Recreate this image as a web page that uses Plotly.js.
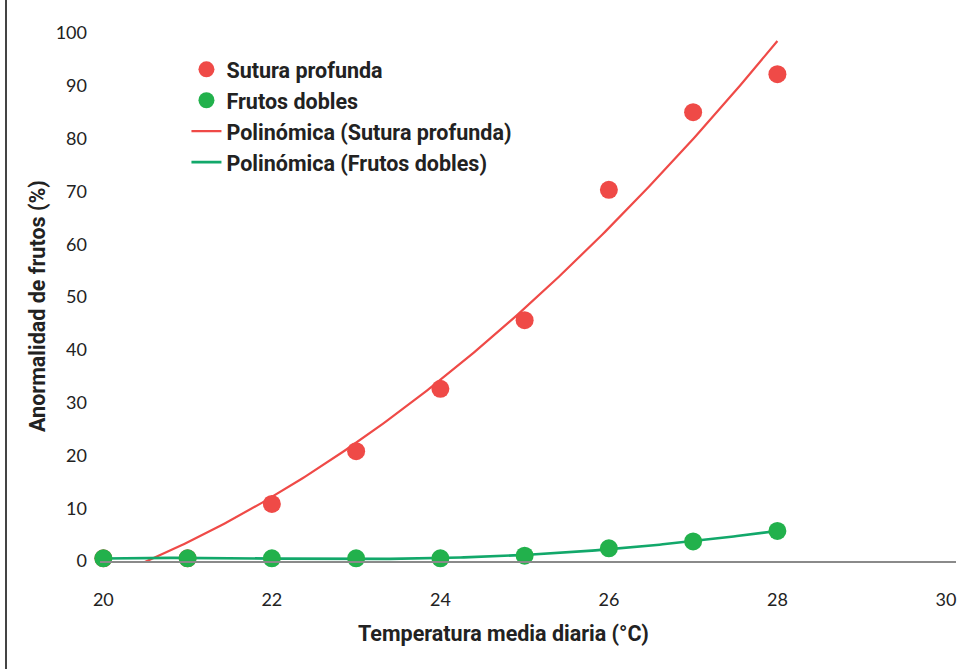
<!DOCTYPE html>
<html>
<head>
<meta charset="utf-8">
<script src="https://cdn.plot.ly/plotly-3.0.1.min.js"></script>
<style>
html,body{margin:0;padding:0;background:#fff;}
#wrap{position:relative;width:967px;height:669px;}
#frame{position:absolute;left:5px;top:0;width:2px;height:669px;background:#444;}
#chart{width:967px;height:669px;}
</style>
</head>
<body>
<div id="wrap"><div id="chart"></div><div id="frame"></div></div>
<script>
// Data
const temperatura = [20, 21, 22, 23, 24, 25, 26, 27, 28];
const suturaProfunda = [0.5, 0.5, 10.8, 20.8, 32.6, 45.6, 70.3, 85.0, 92.2];
const frutosDobles = [0.5, 0.5, 0.5, 0.5, 0.5, 1.0, 2.4, 3.7, 5.7];
const xTicks = [20, 22, 24, 26, 28, 30];
const yTicks = [0, 10, 20, 30, 40, 50, 60, 70, 80, 90, 100];
const xTitle = 'Temperatura media diaria (°C)';
const yTitle = 'Anormalidad de frutos (%)';

// least-squares polynomial trendline (as the spreadsheet does)
function polyfit(xs, ys, deg) {
  const xm = xs.reduce((a, b) => a + b, 0) / xs.length;
  const n = deg + 1;
  const A = Array.from({length: n}, () => new Array(n + 1).fill(0));
  xs.forEach((x, k) => {
    const t = x - xm;
    for (let i = 0; i < n; i++) {
      for (let j = 0; j < n; j++) A[i][j] += Math.pow(t, i + j);
      A[i][n] += ys[k] * Math.pow(t, i);
    }
  });
  for (let i = 0; i < n; i++) {
    let p = i;
    for (let r = i + 1; r < n; r++) if (Math.abs(A[r][i]) > Math.abs(A[p][i])) p = r;
    [A[i], A[p]] = [A[p], A[i]];
    for (let r = 0; r < n; r++) {
      if (r === i) continue;
      const f = A[r][i] / A[i][i];
      for (let c = i; c <= n; c++) A[r][c] -= f * A[i][c];
    }
  }
  const coef = A.map((row, i) => row[n] / row[i]);
  return x => coef.reduce((s, c, i) => s + c * Math.pow(x - xm, i), 0);
}
function trend(xs, ys, deg) {
  const f = polyfit(xs, ys, deg);
  const tx = [], ty = [];
  const x0 = xs[0], x1 = xs[xs.length - 1];
  for (let i = 0; i <= 200; i++) {
    const x = x0 + (x1 - x0) * i / 200;
    tx.push(x); ty.push(f(x));
  }
  return {tx, ty};
}
const tRed = trend(temperatura, suturaProfunda, 2);
const tGreen = trend(temperatura, frutosDobles, 4);

const RED = '#EF4A47', GREEN = '#22B14C', GREEN_LINE = '#12A86A';
const FONT = 'Lato, "Open Sans", sans-serif';
const BFONT = 'Roboto, "Open Sans", sans-serif';

const traces = [
  {x: tRed.tx, y: tRed.ty, mode: 'lines', name: 'Polinómica (Sutura profunda)', line: {color: RED, width: 2.2}, legendrank: 3, legendgroup: 'c', hoverinfo: 'skip'},
  {x: temperatura, y: suturaProfunda, mode: 'markers', name: 'Sutura profunda', marker: {color: RED, size: 18}, cliponaxis: false, legendrank: 1, legendgroup: 'a'},
  {x: tGreen.tx, y: tGreen.ty, mode: 'lines', name: 'Polinómica (Frutos dobles)', line: {color: GREEN_LINE, width: 2.6}, legendrank: 4, legendgroup: 'd', hoverinfo: 'skip'},
  {x: temperatura, y: frutosDobles, mode: 'markers', name: 'Frutos dobles', marker: {color: GREEN, size: 18}, cliponaxis: false, legendrank: 2, legendgroup: 'b'}
];

const layout = {
  width: 967, height: 669,
  margin: {l: 100, r: 11, t: 33, b: 108},
  paper_bgcolor: '#fff', plot_bgcolor: '#fff',
  font: {family: FONT, color: '#222', size: 18},
  showlegend: true,
  legend: {
    x: 0.101, y: 0.97, xanchor: 'left', yanchor: 'top',
    font: {family: BFONT, size: 21.5, color: '#222', weight: 'bold'},
    bgcolor: 'rgba(0,0,0,0)', itemwidth: 30,
    traceorder: 'grouped', tracegroupgap: 0, itemsizing: 'trace'
  },
  xaxis: {
    range: [19.96, 30.12], tickvals: xTicks, ticktext: xTicks.map(String),
    showgrid: false, zeroline: false, showline: true, linecolor: '#8a8a8a', linewidth: 1.5,
    ticks: '', ticklabelstandoff: 22,
    tickfont: {family: FONT, size: 18, color: '#222'}
  },
  yaxis: {
    range: [0, 100], tickvals: yTicks, ticktext: yTicks.map(String),
    showgrid: false, zeroline: false, showline: false,
    ticks: '', ticklabelstandoff: 12,
    tickfont: {family: FONT, size: 18, color: '#222'}
  },
  annotations: [
    {text: xTitle, xref: 'paper', yref: 'paper', x: 0.4708, y: -0.138, xanchor: 'center', yanchor: 'middle',
     showarrow: false, font: {family: BFONT, size: 21.5, color: '#222', weight: 'bold'}},
    {text: yTitle, xref: 'paper', yref: 'paper', x: -0.0724, y: 0.483, xanchor: 'center', yanchor: 'middle',
     textangle: -90, showarrow: false, font: {family: BFONT, size: 21.5, color: '#222', weight: 'bold'}}
  ]
};

Plotly.newPlot('chart', traces, layout, {displayModeBar: false, staticPlot: true});
</script>
</body>
</html>
